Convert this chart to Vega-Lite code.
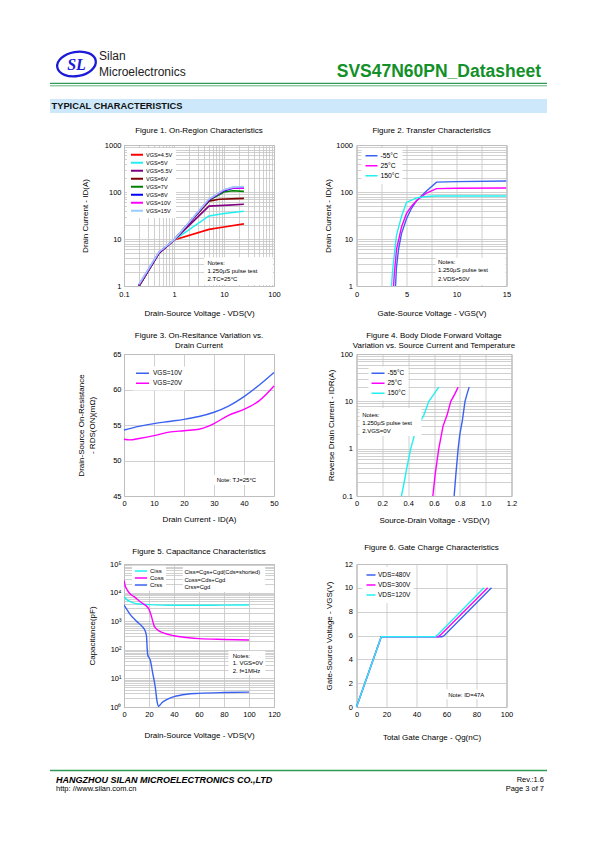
{
"$schema": "https://vega.github.io/schema/vega-lite/v6.json",
"background": "white",
"padding": {"left": 49, "top": 40, "right": 5, "bottom": 5},
"bounds": "flush",
"columns": 2,
"spacing": {"row": 68, "column": 82.5},
"resolve": {"scale": {"color": "independent", "x": "independent", "y": "independent"}, "legend": {"color": "independent"}},
"config": {
 "font": "Liberation Sans",
 "view": {"stroke": "#a6a6a6", "strokeWidth": 1},
 "axis": {"domain": false, "ticks": false, "grid": true, "gridColor": "#c4c4c4", "gridWidth": 0.8, "labelFontSize": 7.5, "labelColor": "#000000", "titleFontSize": 8, "titleFontWeight": "normal", "titleColor": "#000000", "labelOverlap": false, "labelFlush": false},
 "title": {"fontSize": 8, "fontWeight": "normal", "color": "#000000", "anchor": "middle"},
 "legend": {"orient": "none", "title": null, "fillColor": "white", "symbolType": "stroke", "rowPadding": 0, "labelColor": "#000000"}
},
"concat": [
 {
  "width": 150, "height": 37,
  "view": {"stroke": null},
  "data": {"values": [{}]},
  "layer": [
   {"mark": {"type": "rect", "color": "#cce8fa"}, "encoding": {
     "x": {"datum": 49, "type": "quantitative", "scale": {"domain": [123, 273], "nice": false, "zero": false}, "axis": null},
     "x2": {"datum": 546},
     "y": {"datum": 99, "type": "quantitative", "scale": {"domain": [40, 77], "nice": false, "zero": false, "reverse": true}, "axis": null},
     "y2": {"datum": 113}}},
   {"mark": {"type": "rule", "color": "#2f9a55", "strokeWidth": 1.3}, "encoding": {"x": {"datum": 49, "type": "quantitative"}, "x2": {"datum": 546}, "y": {"datum": 83.3, "type": "quantitative"}}},
   {"mark": {"type": "rule", "color": "#5fb27c", "strokeWidth": 1}, "encoding": {"x": {"datum": 49, "type": "quantitative"}, "x2": {"datum": 546}, "y": {"datum": 85.8, "type": "quantitative"}}},
   {"mark": {"type": "point", "shape": "M -1 0 A 1 0.62 0 1 1 1 0 A 1 0.62 0 1 1 -1 0 Z", "size": 1521, "filled": false, "stroke": "#1a1ad8", "strokeWidth": 2.3, "angle": -10, "opacity": 1}, "encoding": {"x": {"datum": 75.5, "type": "quantitative"}, "y": {"datum": 64, "type": "quantitative"}}},
   {"mark": {"type": "text", "text": "SL", "fontSize": 16, "fontWeight": "bold", "fontStyle": "italic", "color": "#1a1ad8", "align": "center", "baseline": "middle", "font": "Liberation Serif"}, "encoding": {"x": {"datum": 75.5, "type": "quantitative"}, "y": {"datum": 64.5, "type": "quantitative"}}},
   {"mark": {"type": "text", "text": "Silan", "fontSize": 12, "color": "#222222", "align": "left", "baseline": "middle"}, "encoding": {"x": {"datum": 98, "type": "quantitative"}, "y": {"datum": 56, "type": "quantitative"}}},
   {"mark": {"type": "text", "text": "Microelectronics", "fontSize": 12, "color": "#222222", "align": "left", "baseline": "middle"}, "encoding": {"x": {"datum": 98, "type": "quantitative"}, "y": {"datum": 72, "type": "quantitative"}}},
   {"mark": {"type": "text", "text": "SVS47N60PN_Datasheet", "fontSize": 17.5, "fontWeight": "bold", "color": "#12902a", "align": "right", "baseline": "middle"}, "encoding": {"x": {"datum": 540, "type": "quantitative"}, "y": {"datum": 71.5, "type": "quantitative"}}},
   {"mark": {"type": "text", "text": "TYPICAL CHARACTERISTICS", "fontSize": 9.3, "fontWeight": "bold", "color": "#111111", "align": "left", "baseline": "middle"}, "encoding": {"x": {"datum": 50.5, "type": "quantitative"}, "y": {"datum": 106, "type": "quantitative"}}}
  ]
 },
 {"width": 150, "height": 37, "view": {"stroke": null}, "data": {"values": []}, "mark": "point"},
 {
  "width": 150, "height": 141,
  "title": {"text": "Figure 1. On-Region Characteristics", "offset": 6},
  "layer": [
   {"data": {"values": [
     {"vgs": "4.5V", "vds": 0.2, "id": 1.0}, {"vgs": "4.5V", "vds": 0.5, "id": 5.0}, {"vgs": "4.5V", "vds": 1, "id": 9.5}, {"vgs": "4.5V", "vds": 5, "id": 16}, {"vgs": "4.5V", "vds": 10, "id": 18}, {"vgs": "4.5V", "vds": 25, "id": 21},
     {"vgs": "5V", "vds": 0.2, "id": 1.0}, {"vgs": "5V", "vds": 0.5, "id": 5.0}, {"vgs": "5V", "vds": 1, "id": 9.5}, {"vgs": "5V", "vds": 5, "id": 31}, {"vgs": "5V", "vds": 10, "id": 35}, {"vgs": "5V", "vds": 25, "id": 39},
     {"vgs": "5.5V", "vds": 0.2, "id": 1.0}, {"vgs": "5.5V", "vds": 0.5, "id": 5.0}, {"vgs": "5.5V", "vds": 1, "id": 9.5}, {"vgs": "5.5V", "vds": 5, "id": 50}, {"vgs": "5.5V", "vds": 10, "id": 52}, {"vgs": "5.5V", "vds": 25, "id": 55},
     {"vgs": "6V", "vds": 0.2, "id": 1.0}, {"vgs": "6V", "vds": 0.5, "id": 5.0}, {"vgs": "6V", "vds": 1, "id": 9.5}, {"vgs": "6V", "vds": 5, "id": 64}, {"vgs": "6V", "vds": 8, "id": 70}, {"vgs": "6V", "vds": 25, "id": 73},
     {"vgs": "7V", "vds": 0.2, "id": 1.0}, {"vgs": "7V", "vds": 0.5, "id": 5.1}, {"vgs": "7V", "vds": 1, "id": 9.5}, {"vgs": "7V", "vds": 5, "id": 67}, {"vgs": "7V", "vds": 10, "id": 100}, {"vgs": "7V", "vds": 15, "id": 106}, {"vgs": "7V", "vds": 25, "id": 103},
     {"vgs": "8V", "vds": 0.2, "id": 1.05}, {"vgs": "8V", "vds": 0.5, "id": 5.1}, {"vgs": "8V", "vds": 1, "id": 9.5}, {"vgs": "8V", "vds": 5, "id": 68}, {"vgs": "8V", "vds": 10, "id": 107}, {"vgs": "8V", "vds": 15, "id": 120}, {"vgs": "8V", "vds": 25, "id": 121},
     {"vgs": "10V", "vds": 0.2, "id": 1.05}, {"vgs": "10V", "vds": 0.5, "id": 5.2}, {"vgs": "10V", "vds": 1, "id": 9.5}, {"vgs": "10V", "vds": 5, "id": 69}, {"vgs": "10V", "vds": 10, "id": 110}, {"vgs": "10V", "vds": 15, "id": 124}, {"vgs": "10V", "vds": 25, "id": 120},
     {"vgs": "15V", "vds": 0.2, "id": 1.1}, {"vgs": "15V", "vds": 0.5, "id": 5.3}, {"vgs": "15V", "vds": 1, "id": 9.6}, {"vgs": "15V", "vds": 5, "id": 71}, {"vgs": "15V", "vds": 10, "id": 112}, {"vgs": "15V", "vds": 15, "id": 127}, {"vgs": "15V", "vds": 25, "id": 130}
    ]},
    "mark": {"type": "line", "strokeWidth": 1.6, "clip": true},
    "encoding": {
     "x": {"field": "vds", "type": "quantitative", "scale": {"type": "log", "domain": [0.1, 100], "nice": false},
           "axis": {"title": "Drain-Source Voltage  -  VDS(V)", "values": [0.1,0.2,0.3,0.4,0.5,0.6,0.7,0.8,0.9,1,2,3,4,5,6,7,8,9,10,20,30,40,50,60,70,80,90,100], "labelExpr": "indexof([0.1,1,10,100], datum.value) >= 0 ? format(datum.value, '~g') : ''", "labelOverlap": false, "titlePadding": 12, "labelPadding": 4}},
     "y": {"field": "id", "type": "quantitative", "scale": {"type": "log", "domain": [1, 1000], "nice": false},
           "axis": {"title": "Drain Current  -  ID(A)", "values": [1,2,3,4,5,6,7,8,9,10,20,30,40,50,60,70,80,90,100,200,300,400,500,600,700,800,900,1000], "labelExpr": "indexof([1,10,100,1000], datum.value) >= 0 ? format(datum.value, '~g') : ''", "labelOverlap": false, "titlePadding": 15, "labelPadding": 3}},
     "color": {"field": "vgs", "type": "nominal",
           "scale": {"domain": ["4.5V","5V","5.5V","6V","7V","8V","10V","15V"], "range": ["#ff0000","#22f0f0","#800080","#800000","#008000","#0000ff","#ff00ff","#99ccff"]},
           "legend": {"legendX": 3, "legendY": 3, "padding": 3, "symbolSize": 144, "symbolStrokeWidth": 2, "labelFontSize": 5.5, "clipHeight": 7.4, "labelOffset": 2, "labelExpr": "'VGS=' + datum.label"}}
    }},
   {"data": {"values": [{}]}, "mark": {"type": "rect", "color": "white"}, "encoding": {"x": {"datum": 4}, "x2": {"datum": 95}, "y": {"datum": 4.1}, "y2": {"datum": 1.05}}},
   {"data": {"values": [{}]}, "mark": {"type": "text", "text": ["Notes:", "1.250μS pulse test", "2.TC=25°C"], "align": "left", "baseline": "top", "fontSize": 6, "lineHeight": 8.3}, "encoding": {"x": {"datum": 4.68}, "y": {"datum": 3.66}}}
  ]
 },
 {
  "width": 150, "height": 141,
  "title": {"text": "Figure 2. Transfer Characteristics", "offset": 6},
  "layer": [
   {"data": {"values": [
     {"t": "-55°C", "vgs": 3.9, "id": 1}, {"t": "-55°C", "vgs": 4.0, "id": 2.5}, {"t": "-55°C", "vgs": 4.2, "id": 6}, {"t": "-55°C", "vgs": 4.5, "id": 13}, {"t": "-55°C", "vgs": 5, "id": 27}, {"t": "-55°C", "vgs": 5.5, "id": 45}, {"t": "-55°C", "vgs": 6, "id": 65}, {"t": "-55°C", "vgs": 7, "id": 105}, {"t": "-55°C", "vgs": 8, "id": 162}, {"t": "-55°C", "vgs": 10, "id": 166}, {"t": "-55°C", "vgs": 15, "id": 172},
     {"t": "25°C", "vgs": 3.7, "id": 1}, {"t": "25°C", "vgs": 3.8, "id": 2}, {"t": "25°C", "vgs": 4.0, "id": 6}, {"t": "25°C", "vgs": 4.5, "id": 18}, {"t": "25°C", "vgs": 5, "id": 35}, {"t": "25°C", "vgs": 5.5, "id": 50}, {"t": "25°C", "vgs": 6, "id": 65}, {"t": "25°C", "vgs": 7, "id": 95}, {"t": "25°C", "vgs": 8, "id": 118}, {"t": "25°C", "vgs": 10, "id": 120}, {"t": "25°C", "vgs": 15, "id": 122},
     {"t": "150°C", "vgs": 3.5, "id": 1}, {"t": "150°C", "vgs": 3.6, "id": 2}, {"t": "150°C", "vgs": 3.8, "id": 5}, {"t": "150°C", "vgs": 4.0, "id": 12}, {"t": "150°C", "vgs": 4.5, "id": 30}, {"t": "150°C", "vgs": 5, "id": 60}, {"t": "150°C", "vgs": 6, "id": 75}, {"t": "150°C", "vgs": 7, "id": 80}, {"t": "150°C", "vgs": 8, "id": 82}, {"t": "150°C", "vgs": 15, "id": 82}
    ]},
    "mark": {"type": "line", "strokeWidth": 1.4, "clip": true},
    "encoding": {
     "x": {"field": "vgs", "type": "quantitative", "scale": {"domain": [0, 15], "nice": false},
           "axis": {"title": "Gate-Source Voltage  -  VGS(V)", "values": [0,2.5,5,7.5,10,12.5,15], "tickCount": 50, "labelExpr": "datum.value % 5 == 0 ? format(datum.value, 'd') : ''", "labelOverlap": false, "titlePadding": 12, "labelPadding": 4}},
     "y": {"field": "id", "type": "quantitative", "scale": {"type": "log", "domain": [1, 1000], "nice": false},
           "axis": {"title": "Drain Current  -  ID(A)", "values": [1,2,3,4,5,6,7,8,9,10,20,30,40,50,60,70,80,90,100,200,300,400,500,600,700,800,900,1000], "labelExpr": "indexof([1,10,100,1000], datum.value) >= 0 ? format(datum.value, '~g') : ''", "labelOverlap": false, "titlePadding": 3, "labelPadding": 4}},
     "color": {"field": "t", "type": "nominal",
           "scale": {"domain": ["-55°C","25°C","150°C"], "range": ["#3a62f2","#ff00ff","#22f0f0"]},
           "legend": {"legendX": 5, "legendY": 3, "padding": 3, "symbolSize": 144, "symbolStrokeWidth": 1.5, "labelFontSize": 6.8, "clipHeight": 9.7, "labelOffset": 2}}
    }},
   {"data": {"values": [{}]}, "mark": {"type": "rect", "color": "white"}, "encoding": {"x": {"datum": 7.9}, "x2": {"datum": 14.9}, "y": {"datum": 4.0}, "y2": {"datum": 1.05}}},
   {"data": {"values": [{}]}, "mark": {"type": "text", "text": ["Notes:", "1.250μS pulse test", "2.VDS=50V"], "align": "left", "baseline": "top", "fontSize": 6, "lineHeight": 8.3}, "encoding": {"x": {"datum": 8.15}, "y": {"datum": 3.75}}}
  ]
 },
 {
  "width": 150, "height": 142,
  "title": {"text": ["Figure 3. On-Resitance Variation vs.", "Drain Current"], "offset": 0, "lineHeight": 9.7},
  "layer": [
   {"data": {"values": [
     {"v": "10V", "id": 0, "r": 54.3}, {"v": "10V", "id": 5, "r": 54.8}, {"v": "10V", "id": 10, "r": 55.2}, {"v": "10V", "id": 15, "r": 55.5}, {"v": "10V", "id": 20, "r": 55.8}, {"v": "10V", "id": 25, "r": 56.2}, {"v": "10V", "id": 30, "r": 56.8}, {"v": "10V", "id": 35, "r": 57.7}, {"v": "10V", "id": 40, "r": 59.0}, {"v": "10V", "id": 45, "r": 60.6}, {"v": "10V", "id": 50, "r": 62.4},
     {"v": "20V", "id": 0, "r": 53.0}, {"v": "20V", "id": 2, "r": 52.9}, {"v": "20V", "id": 5, "r": 53.1}, {"v": "20V", "id": 10, "r": 53.5}, {"v": "20V", "id": 15, "r": 54.0}, {"v": "20V", "id": 20, "r": 54.2}, {"v": "20V", "id": 25, "r": 54.4}, {"v": "20V", "id": 28, "r": 54.8}, {"v": "20V", "id": 30, "r": 55.2}, {"v": "20V", "id": 35, "r": 56.4}, {"v": "20V", "id": 40, "r": 57.2}, {"v": "20V", "id": 45, "r": 58.4}, {"v": "20V", "id": 50, "r": 60.5}
    ]},
    "mark": {"type": "line", "strokeWidth": 1.4, "interpolate": "monotone"},
    "encoding": {
     "x": {"field": "id", "type": "quantitative", "scale": {"domain": [0, 50], "nice": false},
           "axis": {"title": "Drain Current  -  ID(A)", "values": [0,10,20,30,40,50], "tickCount": 50, "format": "d", "labelOverlap": false, "titlePadding": 8, "labelPadding": 3.5}},
     "y": {"field": "r", "type": "quantitative", "scale": {"domain": [45, 65], "nice": false, "zero": false},
           "axis": {"title": ["Drain-Source On-Resistance", "-  RDS(ON)(mΩ)"], "titleLineHeight": 10.7, "values": [45,50,55,60,65], "tickCount": 50, "format": "d", "labelOverlap": false, "titlePadding": 16, "labelPadding": 3}},
     "color": {"field": "v", "type": "nominal",
           "scale": {"domain": ["10V","20V"], "range": ["#3a62f2","#ff00ff"]},
           "legend": {"legendX": 9, "legendY": 12.6, "padding": 2, "symbolSize": 169, "symbolStrokeWidth": 1.5, "labelFontSize": 6.5, "clipHeight": 9.4, "labelOffset": 3, "labelExpr": "'VGS=' + datum.label"}}
    }},
   {"data": {"values": [{}]}, "mark": {"type": "rect", "color": "white"}, "encoding": {"x": {"datum": 29.6}, "x2": {"datum": 46.8}, "y": {"datum": 47.96}, "y2": {"datum": 46.55}}},
   {"data": {"values": [{}]}, "mark": {"type": "text", "text": "Note: TJ=25°C", "align": "left", "baseline": "top", "fontSize": 6}, "encoding": {"x": {"datum": 30.9}, "y": {"datum": 47.63}}}
  ]
 },
 {
  "width": 155, "height": 142,
  "title": {"text": ["Figure 4. Body Diode Forward Voltage", "Variation vs. Source Current and Temperature"], "offset": 0, "lineHeight": 9.7},
  "layer": [
   {"data": {"values": [
     {"t": "-55°C", "vsd": 0.756, "idr": 0.1}, {"t": "-55°C", "vsd": 0.77, "idr": 0.3}, {"t": "-55°C", "vsd": 0.787, "idr": 1}, {"t": "-55°C", "vsd": 0.8, "idr": 2}, {"t": "-55°C", "vsd": 0.82, "idr": 4}, {"t": "-55°C", "vsd": 0.84, "idr": 10}, {"t": "-55°C", "vsd": 0.855, "idr": 14}, {"t": "-55°C", "vsd": 0.872, "idr": 20},
     {"t": "25°C", "vsd": 0.591, "idr": 0.1}, {"t": "25°C", "vsd": 0.61, "idr": 0.3}, {"t": "25°C", "vsd": 0.637, "idr": 1}, {"t": "25°C", "vsd": 0.67, "idr": 3}, {"t": "25°C", "vsd": 0.7, "idr": 5}, {"t": "25°C", "vsd": 0.73, "idr": 10}, {"t": "25°C", "vsd": 0.76, "idr": 14}, {"t": "25°C", "vsd": 0.787, "idr": 20},
     {"t": "150°C", "vsd": 0.348, "idr": 0.1}, {"t": "150°C", "vsd": 0.37, "idr": 0.2}, {"t": "150°C", "vsd": 0.39, "idr": 0.4}, {"t": "150°C", "vsd": 0.42, "idr": 1}, {"t": "150°C", "vsd": 0.45, "idr": 2}, {"t": "150°C", "vsd": 0.47, "idr": 3}, {"t": "150°C", "vsd": 0.52, "idr": 5}, {"t": "150°C", "vsd": 0.56, "idr": 10}, {"t": "150°C", "vsd": 0.59, "idr": 13}, {"t": "150°C", "vsd": 0.637, "idr": 20}
    ]},
    "mark": {"type": "line", "strokeWidth": 1.4},
    "encoding": {
     "x": {"field": "vsd", "type": "quantitative", "scale": {"domain": [0, 1.2], "nice": false},
           "axis": {"title": "Source-Drain Voltage -  VSD(V)", "values": [0,0.2,0.4,0.6,0.8,1.0,1.2], "tickCount": 50, "labelExpr": "datum.value == 0 ? '0' : format(datum.value, '.1f')", "labelOverlap": false, "titlePadding": 9.5, "labelPadding": 3.5}},
     "y": {"field": "idr", "type": "quantitative", "scale": {"type": "log", "domain": [0.1, 100], "nice": false},
           "axis": {"title": "Reverse Drain Current  -  IDR(A)", "values": [0.1,0.2,0.3,0.4,0.5,0.6,0.7,0.8,0.9,1,2,3,4,5,6,7,8,9,10,20,30,40,50,60,70,80,90,100], "labelExpr": "indexof([0.1,1,10,100], datum.value) >= 0 ? format(datum.value, '~g') : ''", "labelOverlap": false, "titlePadding": 4.5, "labelPadding": 4}},
     "color": {"field": "t", "type": "nominal",
           "scale": {"domain": ["-55°C","25°C","150°C"], "range": ["#3a62f2","#ff00ff","#22f0f0"]},
           "legend": {"legendX": 12, "legendY": 12.6, "padding": 2, "symbolSize": 169, "symbolStrokeWidth": 1.5, "labelFontSize": 6.5, "clipHeight": 9.35, "labelOffset": 2}}
    }},
   {"data": {"values": [{}]}, "mark": {"type": "rect", "color": "white"}, "encoding": {"x": {"datum": 0.023}, "x2": {"datum": 0.503}, "y": {"datum": 7.23}, "y2": {"datum": 1.85}}},
   {"data": {"values": [{}]}, "mark": {"type": "text", "text": ["Notes:", "1.250μS pulse test", "2.VGS=0V"], "align": "left", "baseline": "top", "fontSize": 6, "lineHeight": 8}, "encoding": {"x": {"datum": 0.044}, "y": {"datum": 6.04}}}
  ]
 },
 {
  "width": 150, "height": 143,
  "title": {"text": "Figure 5. Capacitance Characteristics", "offset": 4},
  "layer": [
   {"data": {"values": [
     {"c": "Ciss", "v": 0, "pf": 7200}, {"c": "Ciss", "v": 2, "pf": 5800}, {"c": "Ciss", "v": 5, "pf": 4800}, {"c": "Ciss", "v": 8, "pf": 4300}, {"c": "Ciss", "v": 12, "pf": 4000}, {"c": "Ciss", "v": 20, "pf": 3800}, {"c": "Ciss", "v": 30, "pf": 3650}, {"c": "Ciss", "v": 40, "pf": 3600}, {"c": "Ciss", "v": 60, "pf": 3600}, {"c": "Ciss", "v": 80, "pf": 3650}, {"c": "Ciss", "v": 100, "pf": 3700},
     {"c": "Coss", "v": 0, "pf": 27000}, {"c": "Coss", "v": 1, "pf": 17000}, {"c": "Coss", "v": 2.6, "pf": 12300}, {"c": "Coss", "v": 5, "pf": 9000}, {"c": "Coss", "v": 8, "pf": 7200}, {"c": "Coss", "v": 13, "pf": 4800}, {"c": "Coss", "v": 18.5, "pf": 3200}, {"c": "Coss", "v": 20, "pf": 2600}, {"c": "Coss", "v": 22, "pf": 1450}, {"c": "Coss", "v": 24, "pf": 700}, {"c": "Coss", "v": 27, "pf": 490}, {"c": "Coss", "v": 32, "pf": 380}, {"c": "Coss", "v": 40, "pf": 310}, {"c": "Coss", "v": 50, "pf": 270}, {"c": "Coss", "v": 60, "pf": 245}, {"c": "Coss", "v": 80, "pf": 230}, {"c": "Coss", "v": 100, "pf": 220},
     {"c": "Crss", "v": 0, "pf": 3700}, {"c": "Crss", "v": 2, "pf": 2700}, {"c": "Crss", "v": 5, "pf": 1700}, {"c": "Crss", "v": 10, "pf": 1000}, {"c": "Crss", "v": 15, "pf": 620}, {"c": "Crss", "v": 17, "pf": 450}, {"c": "Crss", "v": 18, "pf": 300}, {"c": "Crss", "v": 18.5, "pf": 120}, {"c": "Crss", "v": 19, "pf": 66}, {"c": "Crss", "v": 21, "pf": 44}, {"c": "Crss", "v": 23, "pf": 15}, {"c": "Crss", "v": 25, "pf": 5}, {"c": "Crss", "v": 26.5, "pf": 1.5}, {"c": "Crss", "v": 27.5, "pf": 1.05}, {"c": "Crss", "v": 29, "pf": 1.2}, {"c": "Crss", "v": 31, "pf": 1.5}, {"c": "Crss", "v": 35, "pf": 1.9}, {"c": "Crss", "v": 40, "pf": 2.3}, {"c": "Crss", "v": 50, "pf": 2.8}, {"c": "Crss", "v": 60, "pf": 3.0}, {"c": "Crss", "v": 80, "pf": 3.2}, {"c": "Crss", "v": 100, "pf": 3.3}
    ]},
    "mark": {"type": "line", "strokeWidth": 1.4, "interpolate": "monotone", "clip": true},
    "encoding": {
     "x": {"field": "v", "type": "quantitative", "scale": {"domain": [0, 120], "nice": false},
           "axis": {"title": "Drain-Source Voltage  -  VDS(V)", "values": [0,20,40,60,80,100,120], "tickCount": 50, "format": "d", "labelOverlap": false, "titlePadding": 13.5, "labelPadding": 3}},
     "y": {"field": "pf", "type": "quantitative", "scale": {"type": "log", "domain": [1, 100000], "nice": false},
           "axis": {"title": "Capacitance(pF)", "values": [1,2,3,4,5,6,7,8,9,10,20,30,40,50,60,70,80,90,100,200,300,400,500,600,700,800,900,1000,2000,3000,4000,5000,6000,7000,8000,9000,10000,20000,30000,40000,50000,60000,70000,80000,90000,100000], "labelExpr": "indexof([1,10,100,1000,10000,100000], datum.value) >= 0 ? '10' + ['⁰','¹','²','³','⁴','⁵'][indexof([1,10,100,1000,10000,100000], datum.value)] : ''", "labelOverlap": false, "titlePadding": 12.8, "labelPadding": 3}},
     "color": {"field": "c", "type": "nominal",
           "scale": {"domain": ["Ciss","Coss","Crss"], "range": ["#22f0f0","#ff00ff","#3a62f2"]},
           "legend": {"legendX": 8, "legendY": 1.7, "padding": 2, "symbolSize": 150, "symbolStrokeWidth": 1.5, "labelFontSize": 6, "clipHeight": 6.65, "labelOffset": 2}}
    }},
   {"data": {"values": [{}]}, "mark": {"type": "rect", "color": "white"}, "encoding": {"x": {"datum": 47}, "x2": {"datum": 113}, "y": {"datum": 85100}, "y2": {"datum": 10500}}},
   {"data": {"values": [{}]}, "mark": {"type": "text", "text": ["Ciss=Cgs+Cgd(Cds=shorted)", "Coss=Cds+Cgd", "Crss=Cgd"], "align": "left", "baseline": "top", "fontSize": 5.8, "lineHeight": 7.5}, "encoding": {"x": {"datum": 48.3}, "y": {"datum": 66300}}},
   {"data": {"values": [{}]}, "mark": {"type": "rect", "color": "white"}, "encoding": {"x": {"datum": 83.5}, "x2": {"datum": 113}, "y": {"datum": 90.8}, "y2": {"datum": 13.1}}},
   {"data": {"values": [{}]}, "mark": {"type": "text", "text": ["Notes:", "1. VGS=0V", "2. f=1MHz"], "align": "left", "baseline": "top", "fontSize": 6, "lineHeight": 7.3}, "encoding": {"x": {"datum": 87}, "y": {"datum": 76.7}}}
  ]
 },
 {
  "width": 150, "height": 143,
  "title": {"text": "Figure 6. Gate Charge Characteristics", "offset": 8},
  "layer": [
   {"data": {"values": [
     {"v": "480V", "qg": 0, "vgs": 0}, {"v": "480V", "qg": 16.5, "vgs": 5.9}, {"v": "480V", "qg": 57, "vgs": 5.9}, {"v": "480V", "qg": 58.5, "vgs": 6.0}, {"v": "480V", "qg": 90, "vgs": 10},
     {"v": "300V", "qg": 0, "vgs": 0}, {"v": "300V", "qg": 16.5, "vgs": 5.9}, {"v": "300V", "qg": 54.5, "vgs": 5.9}, {"v": "300V", "qg": 56, "vgs": 6.05}, {"v": "300V", "qg": 87.5, "vgs": 10},
     {"v": "120V", "qg": 0, "vgs": 0}, {"v": "120V", "qg": 16.5, "vgs": 5.9}, {"v": "120V", "qg": 52.5, "vgs": 5.9}, {"v": "120V", "qg": 54, "vgs": 6.05}, {"v": "120V", "qg": 85, "vgs": 10}
    ]},
    "mark": {"type": "line", "strokeWidth": 1.4},
    "encoding": {
     "x": {"field": "qg", "type": "quantitative", "scale": {"domain": [0, 100], "nice": false},
           "axis": {"title": "Total Gate Charge  -  Qg(nC)", "values": [0,20,40,60,80,100], "tickCount": 50, "format": "d", "labelOverlap": false, "titlePadding": 15.5, "labelPadding": 3}},
     "y": {"field": "vgs", "type": "quantitative", "scale": {"domain": [0, 12], "nice": false},
           "axis": {"title": "Gate-Source Voltage  -  VGS(V)", "values": [0,2,4,6,8,10,12], "tickCount": 50, "format": "d", "labelOverlap": false, "titlePadding": 10.4, "labelPadding": 4}},
     "color": {"field": "v", "type": "nominal",
           "scale": {"domain": ["480V","300V","120V"], "range": ["#3a62f2","#ff00ff","#22f0f0"]},
           "legend": {"legendX": 6, "legendY": 3, "padding": 3, "symbolSize": 81, "symbolStrokeWidth": 1.5, "labelFontSize": 6.5, "clipHeight": 10, "labelOffset": 1.5, "labelExpr": "'VDS=' + datum.label"}}
    }},
   {"data": {"values": [{}]}, "mark": {"type": "rect", "color": "white"}, "encoding": {"x": {"datum": 59.3}, "x2": {"datum": 87.1}, "y": {"datum": 1.5}, "y2": {"datum": 0.65}}},
   {"data": {"values": [{}]}, "mark": {"type": "text", "text": "Note: ID=47A", "align": "left", "baseline": "top", "fontSize": 6}, "encoding": {"x": {"datum": 61.1}, "y": {"datum": 1.29}}}
  ]
 },
 {
  "width": 150, "height": 30,
  "view": {"stroke": null},
  "data": {"values": [{}]},
  "layer": [
   {"mark": {"type": "rule", "color": "#2f9a55", "strokeWidth": 1.5}, "encoding": {
     "x": {"datum": 49, "type": "quantitative", "scale": {"domain": [123, 273], "nice": false, "zero": false}, "axis": null},
     "x2": {"datum": 546},
     "y": {"datum": 770.5, "type": "quantitative", "scale": {"domain": [775, 805], "nice": false, "zero": false, "reverse": true}, "axis": null}}},
   {"mark": {"type": "text", "text": "HANGZHOU SILAN MICROELECTRONICS CO.,LTD", "fontSize": 9, "fontWeight": "bold", "fontStyle": "italic", "color": "#000000", "align": "left", "baseline": "middle"}, "encoding": {"x": {"datum": 55, "type": "quantitative"}, "y": {"datum": 780, "type": "quantitative"}}},
   {"mark": {"type": "text", "text": "http: //www.silan.com.cn", "fontSize": 7.5, "color": "#000000", "align": "left", "baseline": "middle"}, "encoding": {"x": {"datum": 55, "type": "quantitative"}, "y": {"datum": 789, "type": "quantitative"}}},
   {"mark": {"type": "text", "text": "Rev.:1.6", "fontSize": 7.5, "color": "#000000", "align": "right", "baseline": "middle"}, "encoding": {"x": {"datum": 543, "type": "quantitative"}, "y": {"datum": 780, "type": "quantitative"}}},
   {"mark": {"type": "text", "text": "Page  3  of  7", "fontSize": 7.5, "color": "#000000", "align": "right", "baseline": "middle"}, "encoding": {"x": {"datum": 543, "type": "quantitative"}, "y": {"datum": 789, "type": "quantitative"}}}
  ]
 },
 {"width": 150, "height": 30, "view": {"stroke": null}, "data": {"values": []}, "mark": "point"}
]
}
